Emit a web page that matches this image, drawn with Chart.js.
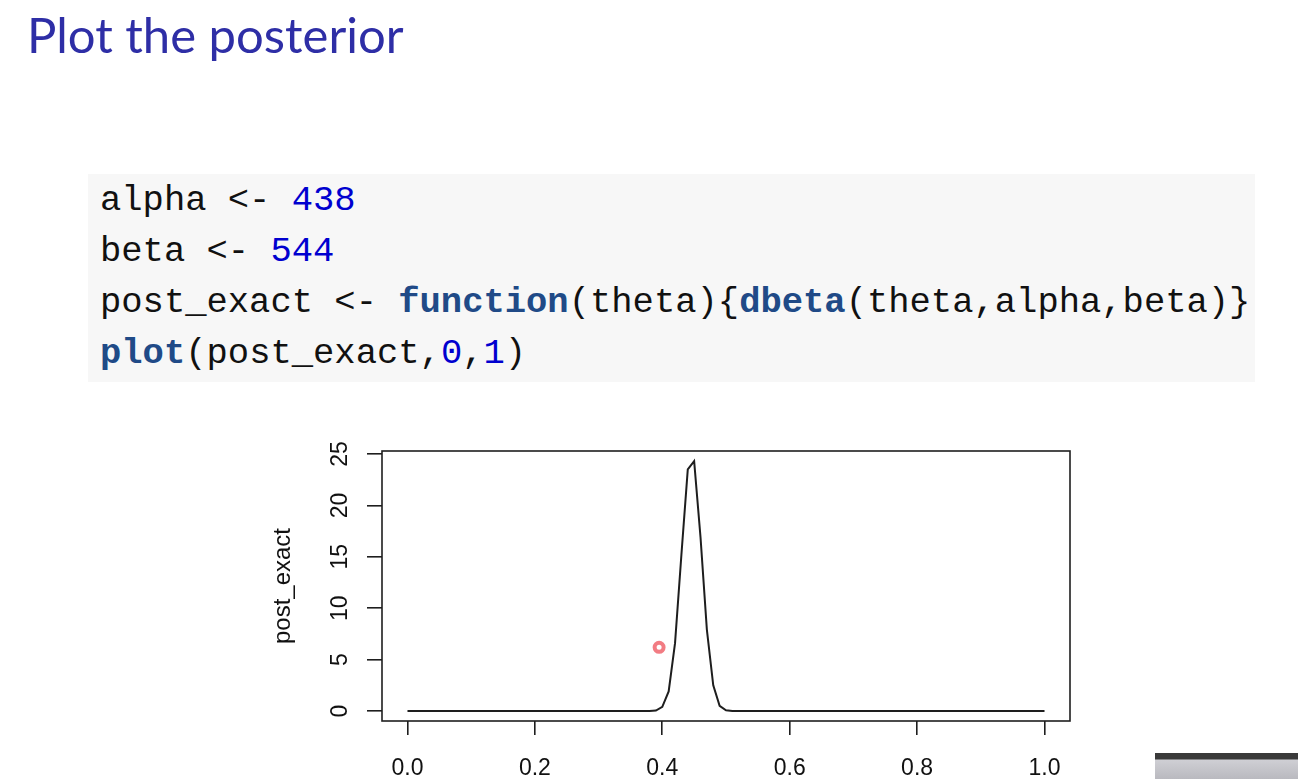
<!DOCTYPE html>
<html>
<head>
<meta charset="utf-8">
<script src="https://cdn.jsdelivr.net/npm/chart.js@4"></script>
<style>
  html, body { margin: 0; padding: 0; background: #fff; width: 1298px; height: 779px; overflow: hidden; position: relative; }
  #title { position: absolute; left: 27px; top: 10px; font-family: "Lato", sans-serif; font-size: 49px; line-height: 49px; color: #2e2ea6; white-space: nowrap; }
  #code { position: absolute; left: 88px; top: 174px; width: 1167px; height: 208px; background: #f7f7f7; }
  #code pre { margin: 0; position: absolute; left: 12px; top: 1px; font-family: "Liberation Mono", monospace; font-size: 35.5px; line-height: 51px; color: #111; }
  .num { color: #0000cf; }
  .kw { color: #204a87; font-weight: bold; }
  #wrap { position: absolute; left: 250px; top: 425px; width: 850px; height: 354px; }
  #cam { position: absolute; left: 1155px; top: 753px; width: 143px; height: 26px; background: linear-gradient(#3a3a3a 0, #3a3a3a 6px, #cfcfd4 7px, #b9b9bf 100%); }
</style>
</head>
<body>
<div id="title">Plot the posterior</div>
<div id="code"><pre>alpha &lt;- <span class="num">438</span>
beta &lt;- <span class="num">544</span>
post_exact &lt;- <span class="kw">function</span>(theta){<span class="kw">dbeta</span>(theta,alpha,beta)}
<span class="kw">plot</span>(post_exact,<span class="num">0</span>,<span class="num">1</span>)</pre></div>
<div id="wrap"><canvas id="plot" width="850" height="354"></canvas></div>
<div id="cam"></div>
<script>
// theta grid that plot() evaluates (101 points)
const theta = [
  0.00, 0.01, 0.02, 0.03, 0.04, 0.05, 0.06, 0.07, 0.08, 0.09,
  0.10, 0.11, 0.12, 0.13, 0.14, 0.15, 0.16, 0.17, 0.18, 0.19,
  0.20, 0.21, 0.22, 0.23, 0.24, 0.25, 0.26, 0.27, 0.28, 0.29,
  0.30, 0.31, 0.32, 0.33, 0.34, 0.35, 0.36, 0.37, 0.38, 0.39,
  0.40, 0.41, 0.42, 0.43, 0.44, 0.45, 0.46, 0.47, 0.48, 0.49,
  0.50, 0.51, 0.52, 0.53, 0.54, 0.55, 0.56, 0.57, 0.58, 0.59,
  0.60, 0.61, 0.62, 0.63, 0.64, 0.65, 0.66, 0.67, 0.68, 0.69,
  0.70, 0.71, 0.72, 0.73, 0.74, 0.75, 0.76, 0.77, 0.78, 0.79,
  0.80, 0.81, 0.82, 0.83, 0.84, 0.85, 0.86, 0.87, 0.88, 0.89,
  0.90, 0.91, 0.92, 0.93, 0.94, 0.95, 0.96, 0.97, 0.98, 0.99,
  1.00,
];
const postExact = [
  0, 0, 0, 0, 0, 0, 0, 0, 0, 0,
  0, 0, 0, 0, 0, 0, 0, 0, 0, 0,
  0, 0, 0, 0, 0, 0, 0, 0, 0, 0,
  0, 0, 0, 0, 0, 0, 0, 0, 0, 0.05,
  0.4, 1.9, 6.6, 15.2, 23.5, 24.3, 16.9, 7.9, 2.5, 0.5,
  0.08, 0.01, 0, 0, 0, 0, 0, 0, 0, 0,
  0, 0, 0, 0, 0, 0, 0, 0, 0, 0,
  0, 0, 0, 0, 0, 0, 0, 0, 0, 0,
  0, 0, 0, 0, 0, 0, 0, 0, 0, 0,
  0, 0, 0, 0, 0, 0, 0, 0, 0, 0,
  0,
];
const xTicks = [0, 0.2, 0.4, 0.6, 0.8, 1.0];
const yTicks = [0, 5, 10, 15, 20, 25];
// presenter's laser pointer seen in the video frame
const pointer = [{ x: 0.395, y: 6.2 }];

const ink = "#1e1e1e";
const axisFont = { family: "'Liberation Sans', Arial, sans-serif", size: 23 };

// full box round the plot region + rotated y tick labels (R style)
const rBox = {
  id: "rBox",
  afterDraw(chart) {
    const { ctx, chartArea: a } = chart;
    const y = chart.scales.y;
    ctx.save();
    ctx.strokeStyle = ink;
    ctx.lineWidth = 1.6;
    ctx.strokeRect(a.left, a.top, a.right - a.left, a.bottom - a.top);
    ctx.fillStyle = "#111";
    ctx.font = `${axisFont.size}px ${axisFont.family}`;
    ctx.textAlign = "center";
    ctx.textBaseline = "middle";
    yTicks.forEach((v) => {
      ctx.save();
      ctx.translate(a.left - 41, y.getPixelForValue(v));
      ctx.rotate(-Math.PI / 2);
      ctx.fillText(String(v), 0, 0);
      ctx.restore();
    });
    ctx.restore();
  },
};

new Chart(document.getElementById("plot"), {
  type: "line",
  data: {
    datasets: [
      {
        label: "post_exact",
        data: theta.map((t, i) => ({ x: t, y: postExact[i] })),
        borderColor: ink,
        borderWidth: 2,
        pointRadius: 0,
        tension: 0,
      },
      {
        type: "scatter",
        label: "pointer",
        data: pointer,
        pointRadius: 4.5,
        pointBackgroundColor: "#fff",
        pointBorderColor: "rgba(238,80,90,0.75)",
        pointBorderWidth: 4,
      },
    ],
  },
  options: {
    responsive: false,
    animation: false,
    devicePixelRatio: 1,
    layout: { padding: { top: 26, right: 30, left: 0, bottom: 0 } },
    plugins: { legend: { display: false }, tooltip: { enabled: false } },
    scales: {
      x: {
        type: "linear",
        min: -0.04,
        max: 1.04,
        afterBuildTicks: (s) => { s.ticks = xTicks.map((v) => ({ value: v })); },
        afterFit: (s) => { s.height = 58; },
        grid: { drawOnChartArea: false, drawTicks: true, tickLength: 14, color: ink, lineWidth: 1.6 },
        border: { display: false },
        ticks: { color: "#111", font: axisFont, padding: 20, autoSkip: false, maxRotation: 0, callback: (v) => v.toFixed(1) },
      },
      y: {
        min: -0.97,
        max: 25.29,
        afterBuildTicks: (s) => { s.ticks = yTicks.map((v) => ({ value: v })); },
        afterFit: (s) => { s.width = 132; },
        grid: { drawOnChartArea: false, drawTicks: true, tickLength: 15, color: ink, lineWidth: 1.6 },
        border: { display: false },
        ticks: { display: false },
        title: { display: true, text: "post_exact", color: "#111", font: { family: axisFont.family, size: 24 }, padding: { top: 19, bottom: 0 } },
      },
    },
  },
  plugins: [rBox],
});
</script>
</body>
</html>
